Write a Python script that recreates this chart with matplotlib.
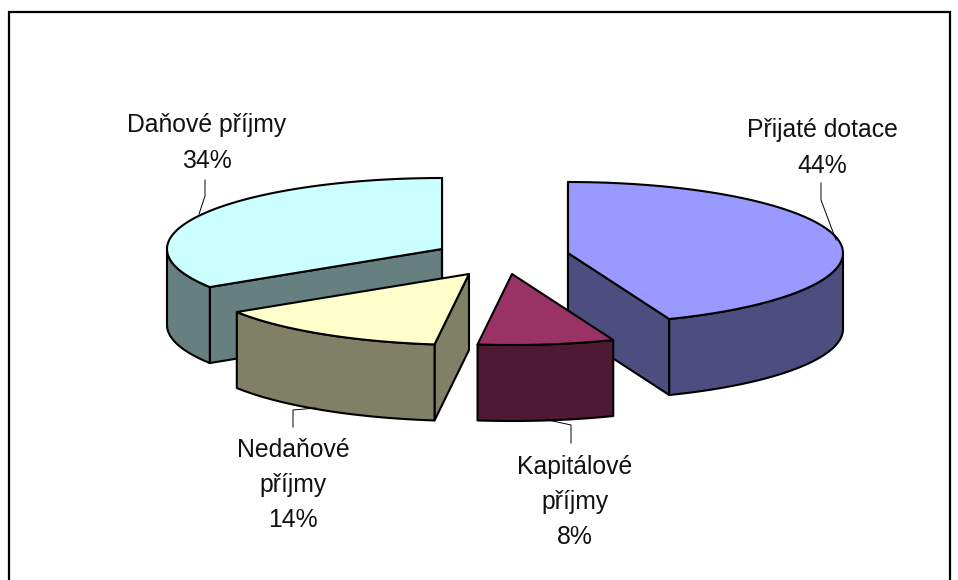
import numpy as np
import matplotlib
matplotlib.use("Agg")
import matplotlib.pyplot as plt
from matplotlib.patches import Polygon, Rectangle

plt.rcParams["font.family"] = ["Liberation Sans", "DejaVu Sans"]

names = ["Přijaté dotace", "Kapitálové\npříjmy", "Nedaňové\npříjmy", "Daňové příjmy"]
shares = [44, 8, 14, 34]
top_colors = ["#9999FF", "#993366", "#FFFFCC", "#CCFFFF"]
side_colors = ["#4D4D80", "#4D1933", "#808066", "#668080"]

# layout in pixels
RX, RY = 275, 71
DEPTH = 76
centers = [(568, 253), (512, 274), (469, 274), (442, 249)]
label_pos = [(822, 148), (575, 502), (293, 485), (207, 143)]
leaders = [
    [(821, 183), (821, 200), (836, 240)],
    [(571, 443), (571, 425), (548, 420)],
    [(293, 427), (293, 410), (316, 408)],
    [(205, 180), (205, 196), (199, 214)],
]
draw_order = [3, 2, 0, 1]


def rim(cx, cy, a0, a1, dy=0):
    a = np.radians(np.linspace(a0, a1, 80))
    return np.column_stack([cx + RX * np.sin(a), cy - RY * np.cos(a) + dy])


fig = plt.figure(figsize=(9.58, 5.80), dpi=100)
ax = fig.add_axes([0, 0, 1, 1])
ax.set_xlim(0, 958)
ax.set_ylim(580, 0)
ax.axis("off")

ax.add_patch(Rectangle((9, 12), 941, 600, fc="white", ec="black", lw=1.6, zorder=0))

edges = np.cumsum([0] + shares) / sum(shares) * 360
z = 1
for i in draw_order:
    cx, cy = centers[i]
    a0, a1 = edges[i], edges[i + 1]

    # radial walls, only the ones turned towards the viewer
    for a, seen in ((a0, np.sin(np.radians(a0)) <= 1e-9), (a1, np.sin(np.radians(a1)) >= -1e-9)):
        if not seen:
            continue
        p = rim(cx, cy, a, a)[0]
        wall = [(cx, cy), p, (p[0], p[1] + DEPTH), (cx, cy + DEPTH)]
        ax.add_patch(Polygon(wall, fc=side_colors[i], ec="black", lw=1.5, joinstyle="round", zorder=z))
        z += 1

    # only the front half of the rim can be seen
    f0, f1 = max(a0, 90), min(a1, 270)
    if f1 > f0:
        front = np.vstack([rim(cx, cy, f0, f1), rim(cx, cy, f1, f0, DEPTH)])
        ax.add_patch(Polygon(front, fc=side_colors[i], ec="black", lw=1.5, joinstyle="round", zorder=z))
        z += 1

    top = np.vstack([[(cx, cy)], rim(cx, cy, a0, a1)])
    ax.add_patch(Polygon(top, fc=top_colors[i], ec="black", lw=1.5, joinstyle="round", zorder=z))
    z += 1

for name, share, pos, line in zip(names, shares, label_pos, leaders):
    xs, ys = zip(*line)
    ax.plot(xs, ys, color="black", lw=0.7, zorder=z)
    ax.text(pos[0], pos[1], f"{name}\n{share}%", ha="center", va="center",
            fontsize=17.8, color="#111111", linespacing=1.6, zorder=z + 1)

fig.savefig("out.png", dpi=100, facecolor="white")
